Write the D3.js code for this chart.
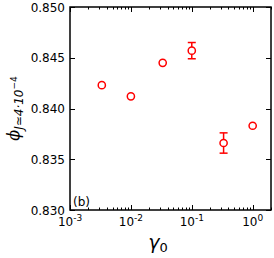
<!DOCTYPE html>
<html>
<head>
<meta charset="utf-8">
<script src="https://cdn.jsdelivr.net/npm/d3@7"></script>
<style>
  body { margin: 0; background: #fff; }
  svg text { font-family: "DejaVu Sans", sans-serif; }
</style>
</head>
<body>
<div id="fig"></div>
<script>
var gamma0 = [0.00333, 0.01, 0.0333, 0.1, 0.333, 1.0];
var phiJ   = [0.8423, 0.8412, 0.8445, 0.8457, 0.8366, 0.8383];
var phiErr = [0, 0, 0, 0.0008, 0.001, 0];
var yTicks = [0.830, 0.835, 0.840, 0.845, 0.850];
var xTicks = [-3, -2, -1, 0];

var margin = {top: 7, right: 3, bottom: 48, left: 70},
    width = 274 - margin.left - margin.right,
    height = 258 - margin.top - margin.bottom;

var svg = d3.select("#fig").append("svg")
    .attr("width", 274)
    .attr("height", 258);

var chart = svg.append("g")
    .attr("transform", "translate(" + margin.left + "," + margin.top + ")");

var x = d3.scaleLog().domain([1e-3, 2]).range([0, width]);
var y = d3.scaleLinear().domain([0.830, 0.850]).range([height, 0]);

// minor ticks for log axis
var minor = [];
for (var e = -3; e <= 0; e++) {
  for (var m = 2; m <= 9; m++) {
    var v = m * Math.pow(10, e);
    if (v <= 2) minor.push(v);
  }
}

// ticks (inward, all four sides)
var tk = chart.append("g").attr("stroke", "#000").attr("stroke-width", 1);
xTicks.forEach(function (e) {
  var px = Math.round(x(Math.pow(10, e))) + 0.5;
  tk.append("line").attr("x1", px).attr("x2", px).attr("y1", height).attr("y2", height - 5);
  tk.append("line").attr("x1", px).attr("x2", px).attr("y1", 0).attr("y2", 5);
});
minor.forEach(function (v) {
  var px = Math.round(x(v)) + 0.5;
  tk.append("line").attr("x1", px).attr("x2", px).attr("y1", height).attr("y2", height - 2.5);
  tk.append("line").attr("x1", px).attr("x2", px).attr("y1", 0).attr("y2", 2.5);
});
yTicks.forEach(function (t) {
  var py = Math.round(y(t)) + 0.5;
  tk.append("line").attr("x1", 0).attr("x2", 5).attr("y1", py).attr("y2", py);
  tk.append("line").attr("x1", width).attr("x2", width - 5).attr("y1", py).attr("y2", py);
});

// frame
chart.append("rect")
    .attr("x", 0).attr("y", 0)
    .attr("width", width).attr("height", height)
    .attr("fill", "none").attr("stroke", "#000").attr("stroke-width", 1.5);

// y tick labels
chart.selectAll(".ylab")
    .data(yTicks)
    .enter().append("text")
    .attr("x", -5)
    .attr("y", d => y(d))
    .attr("dy", "0.38em")
    .attr("text-anchor", "end")
    .attr("font-size", 12)
    .text(d => d3.format(".3f")(d));

// x tick labels 10^e
var xl = chart.selectAll(".xlab")
    .data(xTicks)
    .enter().append("text")
    .attr("x", d => x(Math.pow(10, d)))
    .attr("y", height + 16)
    .attr("text-anchor", "middle")
    .attr("font-size", 12);
xl.append("tspan").text("10");
xl.append("tspan").attr("dy", -5).attr("font-size", 9).text(d => d);

// error bars
var eb = chart.selectAll(".err")
    .data(gamma0.map((g, i) => ({g: g, v: phiJ[i], e: phiErr[i]})).filter(d => d.e > 0))
    .enter().append("g")
    .attr("stroke", "#ff0000").attr("stroke-width", 1.5);
eb.append("line")
    .attr("x1", d => x(d.g)).attr("x2", d => x(d.g))
    .attr("y1", d => y(d.v + d.e)).attr("y2", d => y(d.v - d.e));
eb.append("line")
    .attr("x1", d => x(d.g) - 4).attr("x2", d => x(d.g) + 4)
    .attr("y1", d => y(d.v + d.e)).attr("y2", d => y(d.v + d.e));
eb.append("line")
    .attr("x1", d => x(d.g) - 4).attr("x2", d => x(d.g) + 4)
    .attr("y1", d => y(d.v - d.e)).attr("y2", d => y(d.v - d.e));

// markers
chart.selectAll(".pt")
    .data(gamma0)
    .enter().append("circle")
    .attr("cx", d => x(d))
    .attr("cy", (d, i) => y(phiJ[i]))
    .attr("r", 3.6)
    .attr("fill", "#fff")
    .attr("stroke", "#ff0000")
    .attr("stroke-width", 1.5);

// panel label
chart.append("text")
    .attr("x", 3).attr("y", height - 4)
    .attr("font-size", 12)
    .text("(b)");

// axis labels
var xlab = svg.append("text")
    .attr("x", margin.left + x(0.028))
    .attr("y", 249)
    .attr("text-anchor", "middle")
    .attr("font-family", "'Liberation Serif', serif")
    .attr("font-size", 19)
    .attr("font-style", "italic");
xlab.append("tspan").text("γ");
xlab.append("tspan").attr("font-size", 13).attr("dy", 3).attr("font-style", "normal").text("0");

var ylab = svg.append("text")
    .attr("transform", "translate(19," + (margin.top + height / 2) + ") rotate(-90)")
    .attr("text-anchor", "middle")
    .attr("font-family", "'Liberation Serif', serif")
    .attr("font-style", "italic")
    .attr("font-size", 18);
ylab.append("tspan").attr("font-family", "'DejaVu Serif', serif").attr("font-size", 16).text("ϕ");
ylab.append("tspan").attr("font-size", 12).attr("dy", 4).text("J≃4·10");
ylab.append("tspan").attr("font-size", 9).attr("dy", -6).attr("font-style", "normal").text("−4");
</script>
</body>
</html>
